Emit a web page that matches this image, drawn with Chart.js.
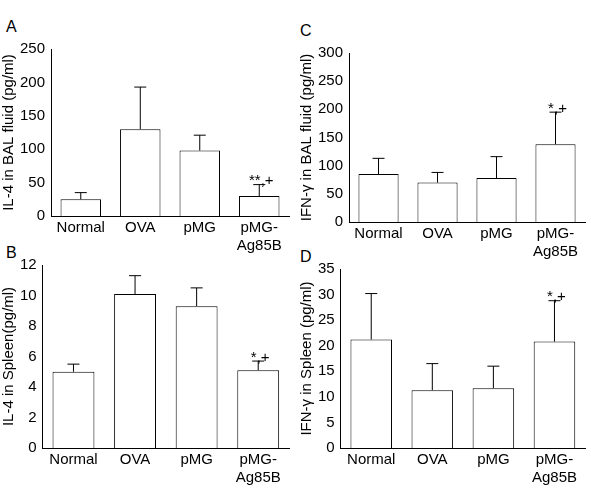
<!DOCTYPE html>
<html>
<head>
<meta charset="utf-8">
<script src="https://cdn.jsdelivr.net/npm/chart.js@4"></script>
<style>
  body { margin: 0; background: #fff; font-family: "Liberation Sans", Arial, sans-serif; }
  .panel { position: absolute; }
  .lbl { position: absolute; font-size: 16px; color: #000; }
</style>
</head>
<body>
<div class="lbl" style="left:6px;top:18px">A</div>
<div class="lbl" style="left:300px;top:22px">C</div>
<div class="lbl" style="left:6px;top:244px">B</div>
<div class="lbl" style="left:300px;top:248px">D</div>
<div class="panel" style="left:0;top:38px;width:295px;height:220px"><canvas id="cA"></canvas></div>
<div class="panel" style="left:298px;top:42px;width:293px;height:222px"><canvas id="cC"></canvas></div>
<div class="panel" style="left:0;top:254px;width:295px;height:236px"><canvas id="cB"></canvas></div>
<div class="panel" style="left:298px;top:258px;width:293px;height:232px"><canvas id="cD"></canvas></div>
<script>
const categories = ['Normal', 'OVA', 'pMG', ['pMG-', 'Ag85B']];

const il4Bal = [25, 130, 98, 30];
const il4BalErr = [35, 193, 121, 47];
const ifnBal = [85, 70, 78, 138];
const ifnBalErr = [113, 88, 116, 195];
const il4Spleen = [5.0, 10.1, 9.3, 5.1];
const il4SpleenErr = [5.5, 11.3, 10.5, 5.7];
const ifnSpleen = [21.2, 11.3, 11.7, 20.8];
const ifnSpleenErr = [30.2, 16.5, 16.0, 28.8];

const marks = {
  cA: ['', '', '', '**,+'],
  cC: ['', '', '', '*,+'],
  cB: ['', '', '', '*,+'],
  cD: ['', '', '', '*,+'],
};

const errorBars = {
  id: 'errorBars',
  afterDatasetsDraw(chart) {
    const ctx = chart.ctx;
    const meta = chart.getDatasetMeta(0);
    const errs = chart.options.plugins.errorBars.tops;
    const sig = chart.options.plugins.errorBars.marks;
    const y = chart.scales.y;
    ctx.save();
    ctx.strokeStyle = '#000';
    ctx.lineWidth = 1;
    meta.data.forEach((bar, i) => {
      const top = y.getPixelForValue(errs[i]);
      ctx.beginPath();
      ctx.moveTo(bar.x, bar.y);
      ctx.lineTo(bar.x, top);
      ctx.moveTo(bar.x - 6, top);
      ctx.lineTo(bar.x + 6, top);
      ctx.stroke();
      if (sig[i]) {
        ctx.fillStyle = '#000';
        ctx.font = '15px "Liberation Sans", Arial, sans-serif';
        ctx.textAlign = 'center';
        ctx.textBaseline = 'bottom';
        ctx.fillText(sig[i], bar.x + 2, top + 4);
      }
    });
    ctx.restore();
  }
};

function makeChart(id, values, tops, max, step, title) {
  new Chart(document.getElementById(id), {
    type: 'bar',
    data: {
      labels: categories,
      datasets: [{
        data: values,
        backgroundColor: '#fff',
        borderColor: '#000',
        borderWidth: 1,
        categoryPercentage: 0.8,
        barPercentage: 0.85,
      }]
    },
    options: {
      responsive: true,
      maintainAspectRatio: false,
      animation: false,
      layout: { padding: { right: 6, top: 4 } },
      plugins: {
        legend: { display: false },
        tooltip: { enabled: false },
        errorBars: { tops, marks: marks[id] },
      },
      scales: {
        x: {
          grid: { display: false, drawTicks: false },
          border: { color: '#000' },
          ticks: { color: '#000', font: { size: 15, family: 'Liberation Sans' }, padding: 3, maxRotation: 0 },
        },
        y: {
          min: 0, max,
          grid: { display: false, drawTicks: true, tickLength: 4, tickColor: '#000' },
          border: { color: '#000' },
          ticks: { stepSize: step, color: '#000', font: { size: 15, family: 'Liberation Sans' }, padding: 2 },
          title: { display: true, text: title, color: '#000', font: { size: 15, family: 'Liberation Sans' }, padding: 0 },
        },
      },
    },
    plugins: [errorBars],
  });
}

makeChart('cA', il4Bal, il4BalErr, 250, 50, 'IL-4 in BAL fluid (pg/ml)');
makeChart('cC', ifnBal, ifnBalErr, 300, 50, 'IFN-γ in BAL fluid (pg/ml)');
makeChart('cB', il4Spleen, il4SpleenErr, 12, 2, 'IL-4 in Spleen(pg/ml)');
makeChart('cD', ifnSpleen, ifnSpleenErr, 35, 5, 'IFN-γ in Spleen (pg/ml)');
</script>
</body>
</html>
